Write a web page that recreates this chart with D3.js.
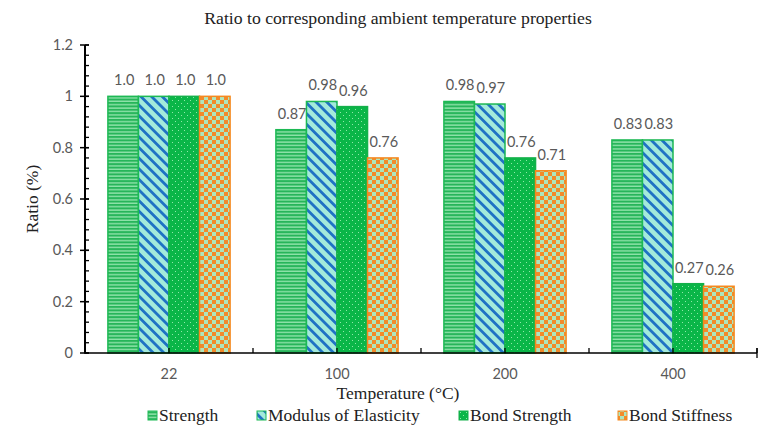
<!DOCTYPE html>
<html><head><meta charset="utf-8">
<script src="https://cdn.jsdelivr.net/npm/d3@7"></script>
<style>body{margin:0;background:#fff}svg{display:block}</style>
</head><body>
<svg id="c" width="769" height="433"></svg>
<script>
const categories = ["22","100","200","400"];
const seriesNames = ["Strength","Modulus of Elasticity","Bond Strength","Bond Stiffness"];
const strength = [1.0, 0.87, 0.98, 0.83];
const modulus = [1.0, 0.98, 0.97, 0.83];
const bondStrength = [1.0, 0.96, 0.76, 0.27];
const bondStiffness = [1.0, 0.76, 0.71, 0.26];
const labelsStrength = ["1.0","0.87","0.98","0.83"];
const labelsModulus = ["1.0","0.98","0.97","0.83"];
const labelsBondStrength = ["1.0","0.96","0.76","0.27"];
const labelsBondStiffness = ["1.0","0.76","0.71","0.26"];
const yTicks = [0,0.2,0.4,0.6,0.8,1,1.2];
const yTickLabels = ["0","0.2","0.4","0.6","0.8","1","1.2"];

function detect(name){
  const ctx = document.createElement("canvas").getContext("2d");
  const s = "mmmmmmmmmmlliWWabcdefg";
  const res = [];
  for (const base of ["monospace","sans-serif"]) {
    ctx.font = `40px ${base}`; const w0 = ctx.measureText(s).width;
    ctx.font = `40px '${name}', ${base}`; const w1 = ctx.measureText(s).width;
    res.push(w0 !== w1);
  }
  return res[0] && res[1];
}
const serifCands = ["Liberation Serif","Times New Roman","Tinos","DejaVu Serif","Noto Serif","FreeSerif"];
const serifName = serifCands.find(detect) || "serif";
const SERIF = `'${serifName}', serif`;
const SANS = "Lato, 'Open Sans', sans-serif";
const serifScale = (serifName === "DejaVu Serif") ? 0.85 : 1;

const series = [
  {name: seriesNames[0], values: strength, labels: labelsStrength, pat: "pStrength", stroke: "#1db954"},
  {name: seriesNames[1], values: modulus, labels: labelsModulus, pat: "pModulus", stroke: "#1db954"},
  {name: seriesNames[2], values: bondStrength, labels: labelsBondStrength, pat: "pBond", stroke: "#14b04a"},
  {name: seriesNames[3], values: bondStiffness, labels: labelsBondStiffness, pat: "pStiff", stroke: "#f5891f"}
];

const svg = d3.select("#c");
const defs = svg.append("defs");
let p = defs.append("pattern").attr("id","pStrength").attr("patternUnits","userSpaceOnUse").attr("width",4).attr("height",3.4);
p.append("rect").attr("width",4).attr("height",3.4).attr("fill","#8fe3aa");
p.append("rect").attr("width",4).attr("height",2).attr("fill","#27b55a");
p = defs.append("pattern").attr("id","pModulus").attr("patternUnits","userSpaceOnUse").attr("width",7.5).attr("height",7.5).attr("patternTransform","rotate(-45)");
p.append("rect").attr("width",7.5).attr("height",7.5).attr("fill","#a3eadb");
p.append("rect").attr("width",2.8).attr("height",7.5).attr("fill","#1f72c4");
p = defs.append("pattern").attr("id","pBond").attr("patternUnits","userSpaceOnUse").attr("width",6).attr("height",6);
p.append("rect").attr("width",6).attr("height",6).attr("fill","#0ab648");
p.append("rect").attr("x",1).attr("y",1).attr("width",1).attr("height",1).attr("fill","#8fe8a8");
p.append("rect").attr("x",4).attr("y",4).attr("width",1).attr("height",1).attr("fill","#8fe8a8");
p = defs.append("pattern").attr("id","pStiff").attr("patternUnits","userSpaceOnUse").attr("width",8).attr("height",8);
p.append("rect").attr("width",8).attr("height",8).attr("fill","#f38a2a");
p.append("rect").attr("x",4).attr("width",4).attr("height",4).attr("fill","#ade6be");
p.append("rect").attr("y",4).attr("width",4).attr("height",4).attr("fill","#ade6be");

const L = 85, R = 757, T = 45, B = 353;
const x0 = d3.scaleBand().domain(categories).range([L, R]).padding(0);
const x1 = d3.scaleBand().domain(seriesNames).range([0, x0.bandwidth()]).paddingInner(0).paddingOuter(0.75);
const y = d3.scaleLinear().domain([0, 1.2]).range([B, T]);

svg.append("text").attr("x", 398).attr("y", 24).attr("text-anchor","middle")
  .style("font-family", SERIF).attr("font-size",17.7*serifScale).attr("fill","#222")
  .text("Ratio to corresponding ambient temperature properties");

const g = svg.append("g");
series.forEach(s => {
  categories.forEach((c, i) => {
    const bx = x0(c) + x1(s.name);
    g.append("rect").attr("x", bx).attr("y", y(s.values[i]))
      .attr("width", x1.bandwidth()).attr("height", y(0) - y(s.values[i]))
      .attr("fill", `url(#${s.pat})`).attr("stroke", s.stroke).attr("stroke-width", 1.5);
    g.append("text").attr("x", bx + x1.bandwidth()/2 + 1).attr("y", y(s.values[i]) - 11)
      .attr("text-anchor","middle").style("font-family", SANS).attr("font-size",14.5)
      .attr("fill","#595959").text(s.labels[i]);
  });
});

const ya = svg.append("g");
ya.append("line").attr("x1",L).attr("x2",L).attr("y1",y(1.2)).attr("y2",y(0)).attr("stroke","#000").attr("stroke-width",2);
d3.range(0, 31).forEach(k => {
  const v = k * 0.04;
  ya.append("line").attr("x1",L).attr("x2",L+4).attr("y1",y(v)).attr("y2",y(v)).attr("stroke","#000").attr("stroke-width",1.3);
});
yTicks.forEach((v,i) => {
  ya.append("line").attr("x1",L-5).attr("x2",L+4).attr("y1",y(v)).attr("y2",y(v)).attr("stroke","#000").attr("stroke-width",1.5);
  ya.append("text").attr("x",L-12).attr("y",y(v)+5).attr("text-anchor","end")
    .style("font-family", SANS).attr("font-size",14.5).attr("fill","#595959").text(yTickLabels[i]);
});
svg.append("text").attr("transform",`translate(38,${(T+B)/2}) rotate(-90)`).attr("text-anchor","middle")
  .style("font-family", SERIF).attr("font-size",17.5*serifScale).attr("fill","#222").text("Ratio (%)");

const xa = svg.append("g");
xa.append("line").attr("x1",L-1).attr("x2",R).attr("y1",B).attr("y2",B).attr("stroke","#000").attr("stroke-width",1.5);
const halfTicks = [];
categories.forEach(c => { halfTicks.push(x0(c)); halfTicks.push(x0(c) + x0.bandwidth()/2); });
halfTicks.push(R);
halfTicks.forEach(t => {
  xa.append("line").attr("x1",t).attr("x2",t).attr("y1",B).attr("y2",B-5).attr("stroke","#000").attr("stroke-width",1.3);
});
xa.append("line").attr("x1",R).attr("x2",R).attr("y1",B-5).attr("y2",B+5).attr("stroke","#000").attr("stroke-width",1.3);
categories.forEach(c => {
  xa.append("text").attr("x", x0(c) + x0.bandwidth()/2).attr("y", B+26).attr("text-anchor","middle")
    .style("font-family", SANS).attr("font-size",14.5).attr("fill","#595959").text(c);
});
svg.append("text").attr("x",398).attr("y",399).attr("text-anchor","middle")
  .style("font-family", SERIF).attr("font-size",17.5*serifScale).attr("fill","#222").text("Temperature (°C)");

const legX = [148, 257, 459, 618];
series.forEach((s, i) => {
  svg.append("rect").attr("x", legX[i]).attr("y", 411).attr("width", 9).attr("height", 9)
    .attr("fill", `url(#${s.pat})`).attr("stroke", s.stroke).attr("stroke-width", 1);
  svg.append("text").attr("x", legX[i] + 11).attr("y", 421)
    .style("font-family", SERIF).attr("font-size",17.5*serifScale).attr("fill","#222").text(s.name);
});
</script>
</body></html>
